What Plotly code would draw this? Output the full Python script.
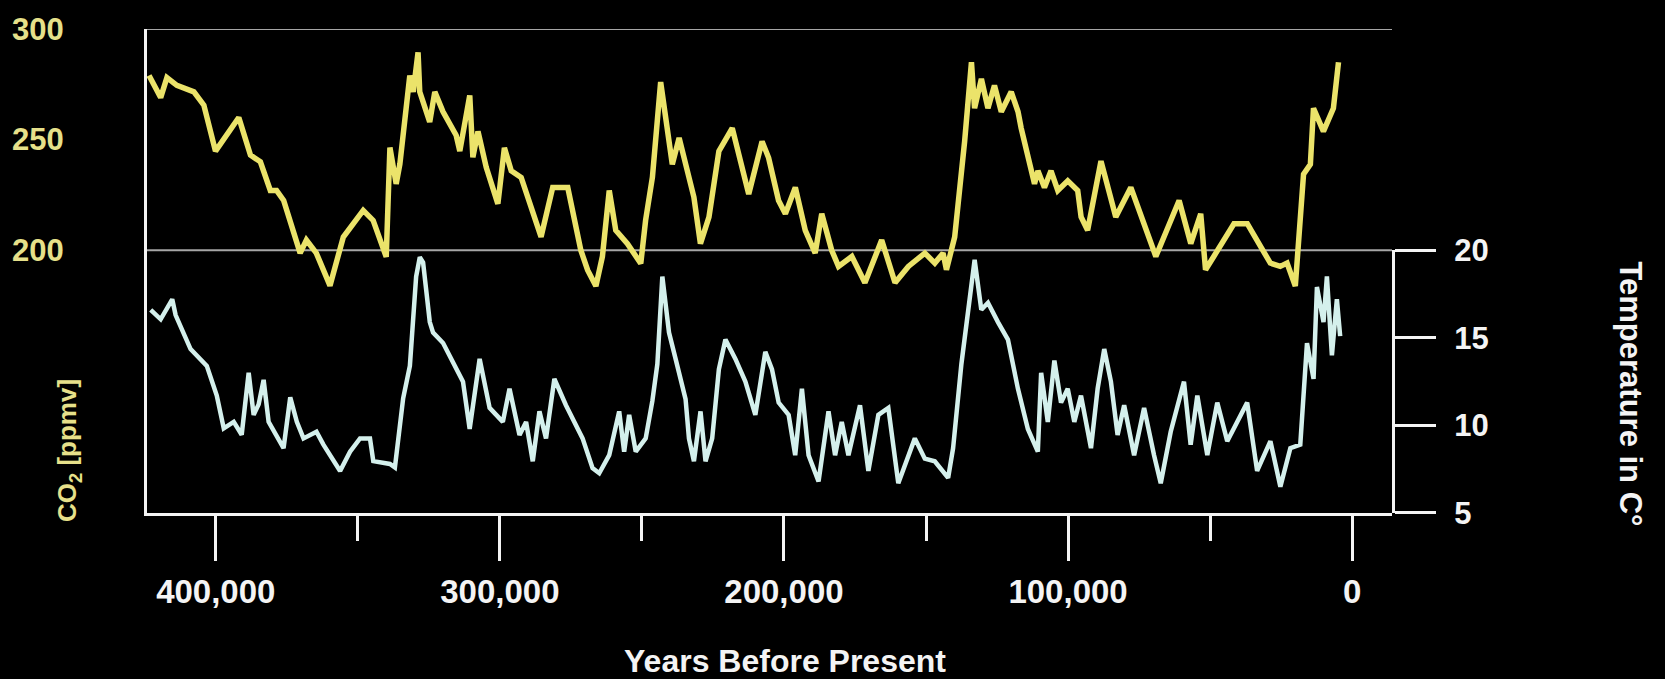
import plotly.graph_objects as go

# ---------------- data ----------------
co2_years = [423500, 419400, 417200, 413700, 407700, 404200, 400100, 396100, 391900, 387800,
             384300, 380800, 378600, 376100, 370300, 368100, 364600, 359800, 355100, 348100,
             344600, 340000, 338700, 336500, 335200, 331700, 330500, 328800, 328200, 324700,
             322900, 320000, 315400, 314100, 310600, 309500, 307700, 304800, 300700, 298400,
             296000, 292500, 285500, 281400, 276100, 271500, 269100, 266200, 263900, 261500,
             259200, 255100, 250400, 248700, 246300, 243400, 239300, 236900, 234600, 231700,
             229400, 226400, 222900, 218200, 212400, 207700, 205400, 201900, 199500, 196000,
             192500, 189000, 186700, 183200, 180800, 176100, 171500, 165600, 160900, 156200,
             150400, 146900, 144000, 142800, 139900, 136400, 134000, 132900, 130500, 128200,
             125900, 123500, 120000, 117600, 116500, 111800, 110600, 108300, 106000, 103600,
             100100, 96600, 95400, 93100, 88400, 83200, 77900, 69100, 60900, 56800,
             53300, 51600, 48700, 41600, 36900, 28800, 25300, 22900, 20000, 17100,
             14700, 13600, 10100, 6600, 4800]
co2_ppmv = [279, 269, 278, 274.5, 271.6, 265.6, 244.8, 252, 260, 243,
            240, 227, 227, 222.5, 198.7, 204.6, 198.7, 184, 206, 218,
            213.5, 197, 246.4, 230, 239, 279, 271.6, 289.4, 271.6, 258,
            271.6, 262.6, 252, 244.8, 270, 242, 253.7, 237.5, 221, 246.3,
            235.9, 232.9, 206, 228.4, 228.4, 200, 191, 183.8, 197.2, 227,
            209, 203, 194, 213.5, 233, 276, 238.8, 250.8, 238.8, 224,
            203, 215, 244.8, 255.2, 225.4, 249.2, 241.8, 222.5, 216.5, 228.4,
            209, 198.7, 216.5, 200, 192.7, 197.2, 185.3, 204.6, 185.3, 192.7,
            198.7, 194.2, 198.7, 191.2, 206, 249.2, 285, 264.2, 277.5, 264.2,
            274.5, 262.6, 271.6, 262.6, 255.2, 230, 235.9, 228.4, 235.9, 227,
            231.4, 227, 215, 209, 240.3, 215, 228.4, 197.2, 222.5, 203,
            216.5, 191.2, 197.2, 212, 212, 194.2, 192.7, 194.2, 183.8, 234.4,
            238.8, 264.2, 253.7, 264.2, 285]

temp_years = [422900, 419400, 415330, 414140, 408880, 403160, 399650, 397190, 393680, 390880,
              388420, 386670, 384910, 383160, 381400, 376140, 373790, 371470, 369120, 364560,
              362110, 356240, 352740, 349230, 345720, 344560, 338700, 336950, 334040, 331680,
              329470, 328180, 327020, 324670, 323510, 320000, 312980, 310630, 307120, 303610,
              298950, 296600, 293090, 290770, 288420, 286070, 283750, 280810, 276740, 270880,
              267370, 265020, 261510, 258000, 256250, 254490, 252170, 248670, 246320, 244560,
              242810, 240460, 238140, 234630, 233440, 231690, 229370, 227610, 225260, 222910,
              220600, 217090, 213580, 210070, 206560, 204210, 201860, 198350, 196040, 193680,
              191330, 187820, 184320, 182000, 179650, 177300, 173230, 170280, 166770, 163260,
              159750, 153930, 150420, 146910, 142210, 140460, 137540, 135190, 132880, 130530,
              128180, 124670, 121160, 117650, 114140, 110630, 109470, 107120, 104810, 102460,
              100110, 97790, 95440, 91930, 89580, 87260, 84910, 82560, 80250, 76740,
              73230, 69720, 67370, 63860, 59190, 56840, 54490, 50980, 47470, 43960,
              40460, 36950, 33440, 28770, 25260, 21750, 18250, 15890, 13580, 12390,
              10070, 8880, 7120, 5370, 4210]
temp_c = [16.6, 16.06, 17.2, 16.3, 14.36, 13.4, 11.7, 9.83, 10.2, 9.47,
          13.0, 10.6, 11.2, 12.6, 10.2, 8.7, 11.6, 10.2, 9.26, 9.64,
          8.9, 7.4, 8.5, 9.26, 9.26, 7.96, 7.8, 7.6, 11.55, 13.4,
          18.5, 19.6, 19.3, 15.9, 15.3, 14.7, 12.5, 9.8, 13.8, 11.0,
          10.2, 12.1, 9.45, 10.2, 7.95, 10.8, 9.26, 12.66, 11.15, 9.26,
          7.56, 7.27, 8.3, 10.8, 8.5, 10.6, 8.5, 9.26, 11.4, 13.5,
          18.5, 15.3, 13.8, 11.5, 9.26, 7.95, 10.8, 7.95, 9.26, 13.2,
          14.9, 13.8, 12.5, 10.6, 14.2, 13.2, 11.3, 10.6, 8.3, 12.1,
          8.3, 6.8, 10.8, 8.3, 10.2, 8.3, 11.15, 7.4, 10.6, 11.0,
          6.7, 9.26, 8.1, 7.95, 7.0, 8.7, 13.5, 16.6, 19.45, 16.6,
          17.0, 15.9, 14.9, 12.1, 9.8, 8.5, 13.0, 10.2, 13.7, 11.3,
          12.1, 10.2, 11.7, 8.7, 12.1, 14.36, 12.5, 9.45, 11.15, 8.3,
          11.0, 8.3, 6.7, 9.64, 12.5, 8.9, 11.7, 8.3, 11.3, 9.1,
          10.2, 11.3, 7.4, 9.1, 6.5, 8.7, 8.9, 14.7, 12.66, 17.9,
          15.9, 18.5, 14.0, 17.2, 15.1]

x_tick_vals = [400000, 300000, 200000, 100000, 0]
x_tick_text = ["400,000", "300,000", "200,000", "100,000", "0"]
x_minor_vals = [350000, 250000, 150000, 50000]
co2_tick_vals = [200, 250, 300]
temp_tick_vals = [5, 10, 15, 20]
grid_co2 = [300, 200]

# ---------------- style ----------------
FONT = "Liberation Sans, Arial, sans-serif"
YELLOW = "#ebe36a"
YELLOW_TXT = "#e6e08a"
CYAN = "#d4f0ec"
WHITE = "#f4f4f4"

fig = go.Figure()
fig.add_trace(go.Scatter(x=co2_years, y=co2_ppmv, mode="lines", yaxis="y",
                         line=dict(color=YELLOW, width=5.5), hoverinfo="skip"))
fig.add_trace(go.Scatter(x=temp_years, y=temp_c, mode="lines", yaxis="y2",
                         line=dict(color=CYAN, width=4.5), hoverinfo="skip"))

for g in grid_co2:
    fig.add_shape(type="line", xref="paper", yref="y", x0=0, x1=1, y0=g, y1=g,
                  line=dict(color="#a6a6a6", width=2), layer="below")

fig.update_layout(
    width=1665, height=679,
    margin=dict(l=143, r=273, t=23, b=166),
    paper_bgcolor="black", plot_bgcolor="rgba(0,0,0,0)",
    showlegend=False,
    font=dict(family=FONT, color=WHITE),
    xaxis=dict(range=[424210, -14035], showgrid=False, zeroline=False,
               showline=True, linecolor=WHITE, linewidth=3,
               ticks="outside", ticklen=45, tickwidth=3, tickcolor=WHITE,
               tickmode="array", tickvals=x_tick_vals, ticktext=x_tick_text,
               tickfont=dict(size=33, color=WHITE, family=FONT, weight="bold"),
               ticklabelstandoff=2,
               minor=dict(tickmode="array", tickvals=x_minor_vals, ticks="outside",
                          ticklen=25, tickwidth=3, tickcolor=WHITE, showgrid=False)),
    yaxis=dict(range=[81.25, 300], domain=[0, 1], showgrid=False, zeroline=False,
               showline=True, linecolor=WHITE, linewidth=3, ticks="",
               tickmode="array", tickvals=co2_tick_vals,
               tickfont=dict(size=31, color=YELLOW_TXT, family=FONT, weight="bold"),
               ticklabelstandoff=74),
    yaxis2=dict(range=[5, 20], domain=[0, 0.5429], anchor="x", side="right",
                showgrid=False, zeroline=False,
                showline=True, linecolor=WHITE, linewidth=3,
                ticks="outside", ticklen=41, tickwidth=3, tickcolor=WHITE,
                tickmode="array", tickvals=temp_tick_vals,
                tickfont=dict(size=31, color=WHITE, family=FONT, weight="bold"),
                ticklabelstandoff=12),
    annotations=[
        dict(text="Years Before Present", xref="paper", yref="paper",
             x=0.5124, y=-0.306, xanchor="center", yanchor="middle", showarrow=False,
             font=dict(size=32, color=WHITE, family=FONT, weight="bold")),
        dict(text="Temperature in C°", xref="paper", yref="paper",
             x=1.192, y=0.247, xanchor="center", yanchor="middle", showarrow=False,
             textangle=90, font=dict(size=31, color=WHITE, family=FONT, weight="bold")),
        dict(text="CO<sub>2</sub> [ppmv]", xref="paper", yref="paper",
             x=-0.0625, y=0.1286, xanchor="center", yanchor="middle", showarrow=False,
             textangle=-90, font=dict(size=26, color=YELLOW_TXT, family=FONT, weight="bold")),
    ],
)

fig.write_html("out.html", config={"displayModeBar": False},
               post_script="document.body.style.margin='0';document.body.style.background='black';")
